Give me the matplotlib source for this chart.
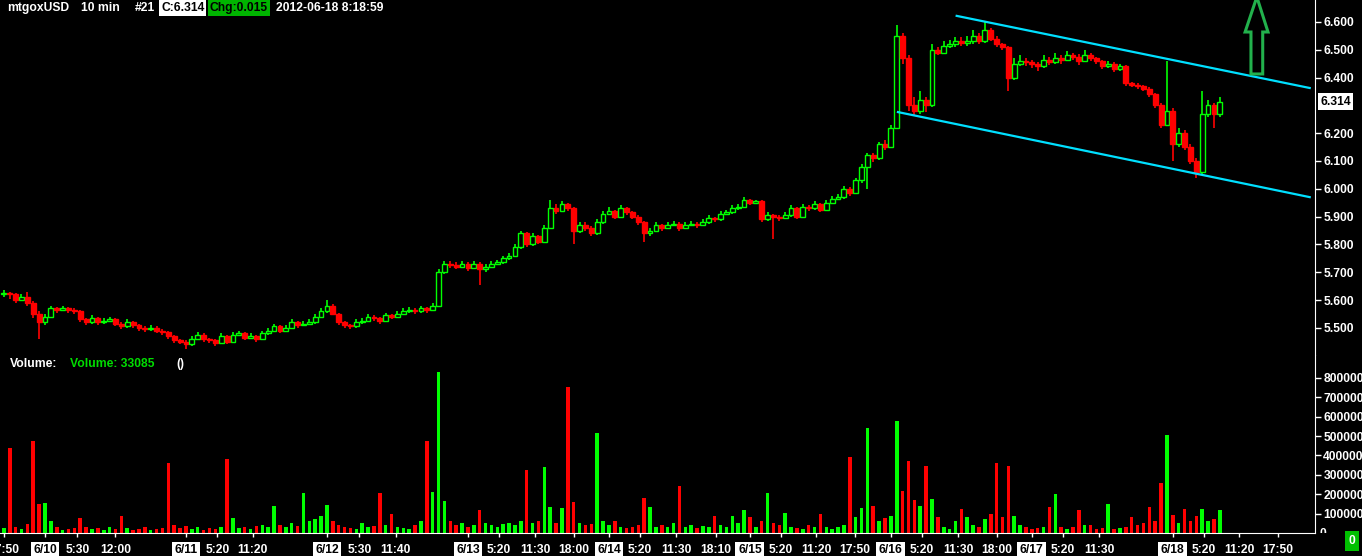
import numpy as np
import matplotlib
matplotlib.use('Agg')
import matplotlib.pyplot as plt
from matplotlib.patches import Polygon
from matplotlib.transforms import Bbox, TransformedBbox

plt.rcParams['font.family'] = ['Liberation Sans', 'DejaVu Sans']
plt.rcParams['font.weight'] = 'bold'

# hourly candles, hours counted from 2012-06-10 00:00
first_hour = -7
first_open = 5.62
closes = [5.625, 5.62, 5.60, 5.61, 5.59, 5.55, 5.52, 5.54, 5.57, 5.565,
          5.57, 5.565, 5.56, 5.53, 5.52, 5.535, 5.52, 5.525, 5.53, 5.515,
          5.505, 5.52, 5.51, 5.50, 5.495, 5.50, 5.49, 5.485, 5.47, 5.455,
          5.45, 5.44, 5.46, 5.475, 5.46, 5.455, 5.445, 5.47, 5.45, 5.475,
          5.48, 5.465, 5.47, 5.46, 5.48, 5.49, 5.505, 5.49, 5.50, 5.52,
          5.51, 5.515, 5.52, 5.54, 5.56, 5.58, 5.55, 5.52, 5.51, 5.505,
          5.52, 5.525, 5.54, 5.535, 5.525, 5.545, 5.54, 5.55, 5.56, 5.565,
          5.56, 5.57, 5.565, 5.58, 5.70, 5.73, 5.725, 5.72, 5.73, 5.715,
          5.73, 5.71, 5.72, 5.73, 5.735, 5.75, 5.76, 5.79, 5.84, 5.80,
          5.83, 5.81, 5.86, 5.93, 5.92, 5.945, 5.93, 5.85, 5.87, 5.86,
          5.84, 5.88, 5.91, 5.92, 5.90, 5.93, 5.915, 5.90, 5.88, 5.84,
          5.85, 5.87, 5.86, 5.87, 5.875, 5.86, 5.87, 5.875, 5.87, 5.88,
          5.895, 5.89, 5.91, 5.915, 5.93, 5.935, 5.96, 5.95, 5.955, 5.89,
          5.905, 5.90, 5.895, 5.905, 5.93, 5.90, 5.935, 5.93, 5.945, 5.925,
          5.95, 5.965, 5.97, 6.00, 5.985, 6.03, 6.08, 6.12, 6.11, 6.16,
          6.15, 6.22, 6.55, 6.47, 6.30, 6.28, 6.32, 6.30, 6.50, 6.49,
          6.515, 6.52, 6.53, 6.525, 6.53, 6.55, 6.53, 6.57, 6.54, 6.52,
          6.51, 6.40, 6.45, 6.46, 6.455, 6.45, 6.44, 6.465, 6.455, 6.47,
          6.465, 6.48, 6.475, 6.46, 6.48, 6.47, 6.46, 6.44, 6.45, 6.43,
          6.44, 6.38, 6.375, 6.37, 6.36, 6.34, 6.30, 6.23, 6.28, 6.16,
          6.20, 6.15, 6.10, 6.06, 6.27, 6.30, 6.27, 6.314]
highs = [5.635, 5.63, 5.625, 5.62, 5.63, 5.595, 5.56, 5.55, 5.58, 5.575,
         5.58, 5.575, 5.57, 5.565, 5.535, 5.545, 5.54, 5.535, 5.54, 5.535,
         5.52, 5.53, 5.525, 5.515, 5.505, 5.51, 5.505, 5.495, 5.49, 5.475,
         5.46, 5.455, 5.47, 5.485, 5.48, 5.465, 5.46, 5.48, 5.475, 5.485,
         5.49, 5.485, 5.48, 5.475, 5.49, 5.50, 5.515, 5.51, 5.51, 5.53,
         5.525, 5.525, 5.53, 5.55, 5.57, 5.60, 5.585, 5.555, 5.525, 5.515,
         5.53, 5.535, 5.55, 5.545, 5.54, 5.555, 5.55, 5.56, 5.57, 5.575,
         5.57, 5.58, 5.575, 5.59, 5.71, 5.74, 5.74, 5.735, 5.74, 5.735,
         5.74, 5.735, 5.73, 5.74, 5.745, 5.76, 5.77, 5.80, 5.85, 5.845,
         5.84, 5.835, 5.87, 5.96, 5.945, 5.955, 5.95, 5.935, 5.88, 5.88,
         5.865, 5.89, 5.92, 5.935, 5.925, 5.94, 5.935, 5.92, 5.905, 5.885,
         5.86, 5.88, 5.875, 5.88, 5.885, 5.88, 5.88, 5.885, 5.88, 5.89,
         5.905, 5.90, 5.92, 5.925, 5.94, 5.945, 5.97, 5.965, 5.96, 5.96,
         5.915, 5.91, 5.905, 5.915, 5.94, 5.935, 5.945, 5.94, 5.955, 5.95,
         5.96, 5.975, 5.98, 6.01, 6.005, 6.04, 6.09, 6.13, 6.13, 6.17,
         6.175, 6.23, 6.59, 6.56, 6.48, 6.33, 6.35, 6.33, 6.52, 6.51,
         6.53, 6.535, 6.545, 6.545, 6.55, 6.57, 6.56, 6.60, 6.58, 6.55,
         6.525, 6.515, 6.47, 6.48, 6.47, 6.465, 6.455, 6.48, 6.475, 6.49,
         6.48, 6.495, 6.49, 6.485, 6.50, 6.49, 6.475, 6.465, 6.46, 6.455,
         6.45, 6.445, 6.385, 6.38, 6.375, 6.365, 6.345, 6.31, 6.46, 6.29,
         6.22, 6.21, 6.16, 6.11, 6.35, 6.32, 6.31, 6.33]
lows = [5.61, 5.605, 5.59, 5.595, 5.58, 5.535, 5.46, 5.51, 5.535, 5.555,
        5.56, 5.555, 5.55, 5.52, 5.51, 5.515, 5.51, 5.515, 5.52, 5.505,
        5.495, 5.50, 5.50, 5.49, 5.485, 5.49, 5.48, 5.475, 5.46, 5.445,
        5.44, 5.425, 5.435, 5.455, 5.45, 5.445, 5.435, 5.44, 5.44, 5.445,
        5.47, 5.455, 5.46, 5.45, 5.455, 5.475, 5.485, 5.48, 5.485, 5.495,
        5.50, 5.505, 5.51, 5.515, 5.535, 5.555, 5.545, 5.51, 5.50, 5.495,
        5.50, 5.515, 5.52, 5.525, 5.515, 5.52, 5.53, 5.535, 5.545, 5.555,
        5.55, 5.555, 5.555, 5.56, 5.575, 5.695, 5.715, 5.71, 5.715, 5.705,
        5.71, 5.655, 5.70, 5.715, 5.725, 5.73, 5.745, 5.755, 5.785, 5.79,
        5.795, 5.80, 5.805, 5.855, 5.91, 5.915, 5.92, 5.80, 5.84, 5.85,
        5.83, 5.835, 5.875, 5.905, 5.89, 5.895, 5.905, 5.89, 5.87, 5.81,
        5.83, 5.845, 5.85, 5.855, 5.865, 5.85, 5.855, 5.865, 5.86, 5.865,
        5.875, 5.88, 5.885, 5.905, 5.91, 5.925, 5.93, 5.94, 5.945, 5.88,
        5.885, 5.82, 5.885, 5.89, 5.90, 5.89, 5.895, 5.92, 5.925, 5.915,
        5.92, 5.945, 5.96, 5.965, 5.975, 5.98, 6.02, 6.00, 6.095, 6.105,
        6.14, 6.145, 6.215, 6.45, 6.28, 6.265, 6.27, 6.275, 6.295, 6.48,
        6.485, 6.505, 6.51, 6.515, 6.515, 6.52, 6.52, 6.525, 6.53, 6.51,
        6.50, 6.35, 6.39, 6.44, 6.44, 6.435, 6.425, 6.435, 6.445, 6.45,
        6.45, 6.46, 6.465, 6.445, 6.455, 6.46, 6.45, 6.43, 6.435, 6.42,
        6.425, 6.37, 6.365, 6.36, 6.35, 6.33, 6.29, 6.22, 6.225, 6.10,
        6.15, 6.14, 6.09, 6.04, 6.05, 6.26, 6.22, 6.26]
volumes = [25000, 440000, 30000, 20000, 45000, 475000, 150000, 155000, 60000, 30000,
           15000, 20000, 25000, 77000, 30000, 20000, 25000, 15000, 30000, 20000,
           88000, 25000, 15000, 20000, 30000, 15000, 20000, 25000, 360000, 40000,
           25000, 35000, 20000, 30000, 15000, 25000, 20000, 30000, 383000, 77000,
           25000, 30000, 20000, 35000, 40000, 30000, 140000, 40000, 30000, 50000,
           35000, 206000, 60000, 70000, 90000, 145000, 60000, 40000, 30000, 25000,
           20000, 50000, 30000, 35000, 206000, 40000, 98000, 30000, 25000, 20000,
           40000, 60000, 475000, 212000, 830000, 165000, 60000, 40000, 50000, 30000,
           40000, 119000, 50000, 40000, 30000, 45000, 50000, 40000, 60000, 325000,
           50000, 60000, 340000, 134000, 50000, 129000, 753000, 160000, 50000, 40000,
           45000, 516000, 60000, 40000, 60000, 30000, 25000, 30000, 40000, 180000,
           134000, 30000, 40000, 30000, 50000, 243000, 30000, 40000, 25000, 35000,
           30000, 88000, 40000, 30000, 88000, 50000, 119000, 83000, 30000, 60000,
           206000, 50000, 40000, 103000, 30000, 25000, 20000, 40000, 30000, 98000,
           30000, 20000, 30000, 40000, 392000, 80000, 130000, 542000, 140000, 60000,
           77000, 90000, 578000, 217000, 372000, 170000, 140000, 346000, 175000, 80000,
           30000, 20000, 64000, 124000, 80000, 40000, 30000, 74000, 98000, 360000,
           80000, 346000, 88000, 40000, 30000, 20000, 25000, 30000, 134000, 201000,
           30000, 20000, 30000, 119000, 40000, 40000, 20000, 25000, 150000, 20000,
           25000, 30000, 80000, 40000, 50000, 134000, 60000, 258000, 506000, 93000,
           50000, 124000, 60000, 88000, 124000, 60000, 70000, 119000]

# x axis labels (hour offsets from 6/10 00:00)
tick_hours = [-7.0, 0, 5.5, 12, 24, 29.33, 35.33, 48, 53.5, 59.67, 72, 77.33, 83.5, 90,
              96, 101.33, 107.5, 114.17, 120, 125.33, 131.33, 137.83, 144, 149.33, 155.5,
              162, 168, 173.33, 179.5, 192, 197.33, 203.33, 209.83]
tick_text = ['17:50', '6/10', '5:30', '12:00', '6/11', '5:20', '11:20', '6/12', '5:30',
             '11:40', '6/13', '5:20', '11:30', '18:00', '6/14', '5:20', '11:30', '18:10',
             '6/15', '5:20', '11:20', '17:50', '6/16', '5:20', '11:30', '18:00', '6/17',
             '5:20', '11:30', '6/18', '5:20', '11:20', '17:50']
price_ticks = [5.5, 5.6, 5.7, 5.8, 5.9, 6.0, 6.1, 6.2, 6.4, 6.5, 6.6]
vol_ticks = [100000, 200000, 300000, 400000, 500000, 600000, 700000, 800000]
last_price = 6.314

# trend channel drawn by hand on the chart
upper_line_h = [155.2, 215.3]
upper_line_p = [6.622, 6.3626]
lower_line_h = [145.2, 215.3]
lower_line_p = [6.276, 5.970]

W, H = 1362, 556
RED = '#ff0000'
GREEN = '#00ff00'


def rect(x0, y0, x1, y1):
    return [x0 / W, 1 - y1 / H, (x1 - x0) / W, (y1 - y0) / H]


fig = plt.figure(figsize=(W / 100, H / 100), dpi=100, facecolor='black')
ax = fig.add_axes(rect(0, 0, 1315, 355), facecolor='black')
axv = fig.add_axes(rect(0, 355, 1315, 533), facecolor='black', sharex=ax)

hours = first_hour + np.arange(len(closes))
opens = np.array([first_open] + closes[:-1])
closes_a = np.array(closes)
up = closes_a >= opens
bar_col = np.where(up, GREEN, RED)

# candles: up = hollow green, down = solid red
ax.vlines(hours, lows, highs, colors=bar_col, linewidth=1.2, zorder=2)
body_lo = np.minimum(opens, closes_a)
body_h = np.maximum(np.abs(closes_a - opens), 0.004)
ax.bar(hours, body_h, bottom=body_lo, width=0.82,
       facecolor=np.where(up, 'black', RED), edgecolor=bar_col, linewidth=1.0, zorder=3)

ax.plot(upper_line_h, upper_line_p, color='#00e0ff', linewidth=1.6, zorder=4)
ax.plot(lower_line_h, lower_line_p, color='#00e0ff', linewidth=1.6, zorder=4)

# hand-drawn hollow arrow
arrow = [(206.3, 6.69), (208.2, 6.564), (207.3, 6.564), (207.3, 6.413),
         (205.3, 6.413), (205.3, 6.564), (204.3, 6.564)]
ax.add_patch(Polygon(arrow, closed=True, facecolor='none', edgecolor='#22b14c',
                     linewidth=2.2, zorder=5))

axv.bar(hours, volumes, width=0.6, color=bar_col, linewidth=0)

ax.set_xlim(-7.66, 216.2)
ax.set_ylim(5.4022, 6.6791)
axv.set_ylim(0, 918700)

for a in (ax, axv):
    for s in ('top', 'left'):
        a.spines[s].set_visible(False)
    a.spines['right'].set_color('white')
    a.spines['bottom'].set_color('white')
    a.yaxis.tick_right()
    a.tick_params(axis='y', colors='white', length=4, width=1, labelsize=8.7, pad=2)
ax.spines['bottom'].set_visible(False)
ax.tick_params(axis='x', bottom=False, labelbottom=False)

ax.set_yticks(price_ticks)
ax.set_yticklabels(['%.3f' % p for p in price_ticks])
axv.set_yticks(vol_ticks)
axv.set_yticklabels([str(v) for v in vol_ticks])

axv.set_xticks(tick_hours)
axv.set_xticklabels(tick_text)
axv.tick_params(axis='x', colors='white', length=3, width=1, labelsize=8.7, pad=5)
for lbl in axv.get_xticklabels():
    if '/' in lbl.get_text():
        lbl.set_color('black')
        lbl.set_bbox(dict(facecolor='white', edgecolor='none', pad=1.8))

# volume "0" label, cut off by the axis line
zero = fig.text(1320 / W, 1 - 534 / H, '0', color='white', fontsize=8.7, va='center')
zero.set_clip_box(TransformedBbox(Bbox([[1316 / W, 1 - 533 / H], [1, 1]]), fig.transFigure))
zero.set_clip_on(True)

# last price box
ax.text(1.004, last_price, '%.3f' % last_price, transform=ax.get_yaxis_transform(),
        color='black', fontsize=8.7, va='center', ha='left',
        bbox=dict(facecolor='white', edgecolor='none', pad=1.5))

# header
hy = 1 - 8 / H
fig.text(7 / W, hy, 'mtgoxUSD', color='white', fontsize=8.7, va='center')
fig.text(81 / W, hy, '10 min', color='white', fontsize=8.7, va='center')
fig.text(135 / W, hy, '#21', color='white', fontsize=8.7, va='center')
fig.text(161 / W, hy, 'C:6.314', color='black', fontsize=8.7, va='center',
         bbox=dict(facecolor='white', edgecolor='none', pad=1.2))
fig.text(210 / W, hy, 'Chg:0.015', color='black', fontsize=8.7, va='center',
         bbox=dict(facecolor='#00b400', edgecolor='none', pad=1.2))
fig.text(276 / W, hy, '2012-06-18 8:18:59', color='white', fontsize=8.7, va='center')

vy = 1 - 364 / H
fig.text(10 / W, vy, 'Volume:', color='white', fontsize=8.7, va='center')
fig.text(70 / W, vy, 'Volume: 33085', color='#00dd00', fontsize=8.7, va='center')
fig.text(176 / W, vy, '()', color='white', fontsize=8.7, va='center')

fig.text(1352 / W, 1 - 541 / H, '0', color='white', fontsize=8.7, va='center', ha='center',
         bbox=dict(facecolor='#00c000', edgecolor='none', pad=2.5))

fig.savefig('out.png', dpi=100, facecolor='black')
